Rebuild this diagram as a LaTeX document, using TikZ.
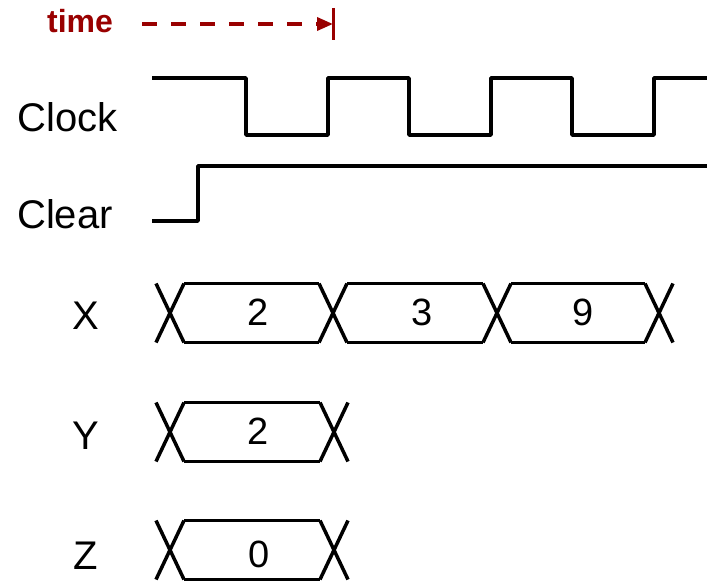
\documentclass[tikz,border=0pt]{standalone}
\usepackage{fontspec}
\setmainfont{Liberation Sans}
\usetikzlibrary{arrows.meta}
\definecolor{timered}{RGB}{153,0,0}

\begin{document}
\begin{tikzpicture}[x=1pt,y=-1pt,
		wave/.style={line width=3.5pt, line join=round},
		sig/.style={font=\fontsize{40}{40}\selectfont, inner sep=0pt, anchor=base},
		val/.style={font=\fontsize{38}{38}\selectfont, inner sep=0pt, anchor=base}]
		\useasboundingbox (0,0) rectangle (707,583);
		
		% time arrow
		\node[font=\bfseries\fontsize{32}{32}\selectfont, text=timered, inner sep=0pt, anchor=base] (time) at (80,33) {time};
		\coordinate (t0) at (142,24);
		\coordinate (t1) at (333,24);
		\coordinate (b0) at (333,8);
		\coordinate (b1) at (333,40);
		\draw[timered, line width=3.5pt, dash pattern=on 15pt off 14pt, -{Triangle[length=16pt,width=13pt]}] (t0) -- (t1);
		\draw[timered, line width=3pt] (b0) -- (b1);
		
		% signal names
		\node[sig] (clk) at (68,132) {Clock};
		\node[sig] (clr) at (65,228) {Clear};
		\node[sig] (x) at (86,329) {X};
		\node[sig] (y) at (86,449) {Y};
		\node[sig] (z) at (86,569) {Z};
		
		% clock and clear
		\draw[wave] (152,78) -- (246,78) -- (246,135) -- (328,135) -- (328,78) -- (409,78) -- (409,135)
			-- (491,135) -- (491,78) -- (572,78) -- (572,135) -- (654,135) -- (654,78) -- (707,78);
		\draw[wave] (152,221) -- (198,221) -- (198,166) -- (707,166);
		
		% buses: crossings
		\foreach \c/\yc in {170/313, 333/313, 497/313, 659/313, 170/432, 334/432, 170/550, 334/550} {
			\draw[wave] (\c-14,\yc-29.5) -- (\c+14,\yc+29.5);
			\draw[wave] (\c-14,\yc+29.5) -- (\c+14,\yc-29.5);
		}
		% buses: values
		\foreach \a/\b/\yc in {170/333/313, 333/497/313, 497/659/313, 170/334/432, 170/334/550} {
			\draw[wave] (\a+14,\yc-29.5) -- (\b-14,\yc-29.5);
			\draw[wave] (\a+14,\yc+29.5) -- (\b-14,\yc+29.5);
		}
		\node[val] (x1) at (258,325) {2};
		\node[val] (x2) at (422,325) {3};
		\node[val] (x3) at (583,325) {9};
		\node[val] (y1) at (258,444) {2};
		\node[val] (z1) at (259,567) {0};
		
	\end{tikzpicture}
\end{document}
